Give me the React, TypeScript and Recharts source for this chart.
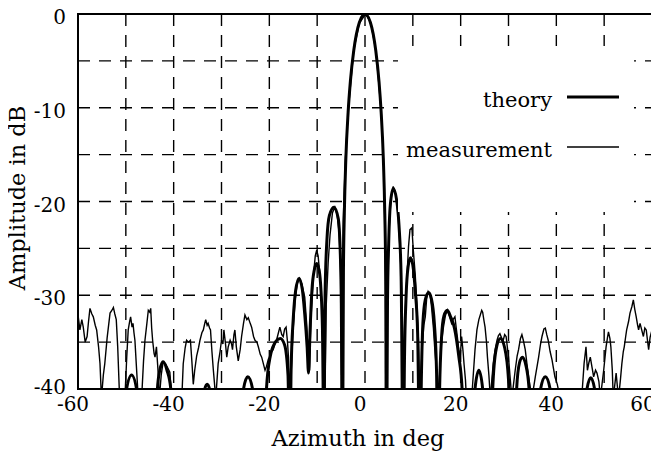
import React from 'react';
import { LineChart, Line, XAxis, YAxis, CartesianGrid, ReferenceArea, Legend } from 'recharts';

// azimuth ticks (deg) and amplitude ticks (dB)
const azTicks = [-60, -50, -40, -30, -20, -10, 0, 10, 20, 30, 40, 50, 60];
const dbTicks = [-40, -35, -30, -25, -20, -15, -10, -5, 0];

// theory pattern [azimuth, dB], values below -40 fall outside the plot
const theory: [number, number][] = [
  [-60, -55],
  [-50.6, -55], [-50.0, -40.5], [-48.8, -38.5], [-47.6, -40.5], [-47.0, -55],
  [-44.0, -55], [-43.4, -40], [-42.9, -38], [-42.2, -37.1], [-41.4, -38], [-40.6, -40], [-40.0, -55],
  [-34.2, -55], [-33.6, -40.2], [-33.0, -39.5], [-32.4, -40.2], [-31.8, -55],
  [-26.1, -55], [-25.4, -40], [-24.5, -38.7], [-23.5, -40], [-22.9, -55],
  [-21.0, -55], [-20.6, -40], [-19.8, -36.5], [-18.6, -34.9], [-17.7, -34.6], [-16.8, -35.3], [-16.1, -38.5], [-15.7, -48],
  [-15.45, -38], [-15.0, -32.5], [-14.5, -29.5], [-13.8, -28.2], [-13.1, -29.4], [-12.6, -32], [-12.1, -35.5], [-11.8, -38.3],
  [-11.5, -34], [-11.1, -29.5], [-10.6, -27.3], [-10.1, -26.6], [-9.6, -27.3], [-9.2, -29.5], [-8.9, -33.5], [-8.6, -45],
  [-8.35, -30], [-7.95, -24], [-7.45, -21.5], [-6.5, -20.6], [-5.6, -21.8], [-5.2, -25], [-4.95, -31], [-4.72, -50],
  [-4.51, -27.6], [-4.32, -21.3], [-4.0, -15.4], [-3.53, -10.5], [-3.06, -7.2], [-2.35, -3.9], [-1.18, -0.9], [0, 0],
  [1.13, -0.9], [2.25, -3.9], [2.93, -7.2], [3.38, -10.5], [3.83, -15.4], [4.14, -21.3], [4.32, -27.6], [4.5, -50],
  [4.7, -31], [4.95, -24.5], [5.3, -20.3], [5.9, -18.6], [6.6, -19.8], [7.1, -22.5], [7.55, -28], [8.0, -50],
  [8.25, -37], [8.6, -30], [9.0, -27], [9.5, -26], [10.0, -26.8], [10.5, -29.5], [11.0, -34], [11.5, -50],
  [11.75, -40], [12.1, -33], [12.6, -30.5], [13.3, -29.7], [13.9, -30.4], [14.5, -33], [14.95, -38], [15.3, -50],
  [15.6, -40], [16.0, -34.5], [16.5, -32.2], [17.2, -31.6], [17.9, -32.3], [18.7, -33.5], [19.6, -36.5], [20.3, -40], [20.8, -52],
  [22.5, -55], [23.0, -40], [23.8, -38], [24.6, -40], [25.2, -55],
  [26.2, -52], [26.7, -40], [27.4, -35.8], [28.3, -34.6], [29.2, -35.6], [30.0, -39], [30.5, -52],
  [31.2, -55], [31.7, -40], [32.3, -37.2], [32.9, -36.6], [33.6, -37.4], [34.3, -40], [34.8, -55],
  [36.2, -55], [36.7, -40], [37.7, -38.7], [38.7, -40], [39.2, -55],
  [45.8, -55], [46.4, -40], [47.2, -38.8], [48.0, -40], [48.6, -55],
  [60, -55],
];

// measured pattern [azimuth, dB]
const measurement: [number, number][] = [
  [-60, -32.1], [-59.6, -33.7], [-59.2, -32.6], [-58.9, -33.4], [-58.5, -35.0], [-58.1, -34.4], [-57.8, -32.8],
  [-57.5, -31.4], [-57.1, -32.0], [-56.8, -32.3], [-56.4, -33.2], [-56.1, -33.7], [-55.7, -35.5], [-55.4, -37.3], [-55.1, -41],
  [-54.7, -38.5], [-54.4, -37.3], [-53.9, -34.5], [-53.3, -31.9], [-52.9, -31.6], [-52.6, -31.3], [-52.3, -32.0],
  [-52.0, -32.6], [-51.7, -35.5], [-51.3, -41],
  [-50.2, -41], [-49.8, -36.5], [-49.5, -33.7], [-49.2, -32.8], [-49.0, -32.3], [-48.7, -33.4], [-48.5, -33.0],
  [-48.3, -34.0], [-48.1, -34.8], [-47.8, -37.5], [-47.4, -41],
  [-46.7, -41], [-46.3, -37], [-46.0, -34.8], [-45.6, -33.0], [-45.3, -31.6], [-45.0, -31.8], [-44.8, -31.4],
  [-44.6, -33.5], [-44.4, -34.8], [-44.1, -36.2], [-43.9, -36.6], [-43.6, -35.5], [-43.3, -37.8], [-43.0, -41],
  [-42.6, -38.5], [-42.2, -37.1], [-41.7, -37.3], [-41.2, -37.8], [-40.8, -38.2], [-40.4, -41],
  [-38.3, -41], [-38.0, -37.3], [-37.6, -35.6], [-37.3, -34.8], [-36.9, -35.0], [-36.5, -34.8], [-36.2, -37.0],
  [-35.9, -39.5], [-35.6, -38.0], [-35.2, -36.5], [-34.8, -35.6], [-34.5, -34.8], [-34.1, -34.0], [-33.8, -33.7],
  [-33.5, -33.0], [-33.3, -32.6], [-33.0, -33.2], [-32.8, -33.0], [-32.5, -33.5], [-32.3, -33.7], [-32.0, -36.0],
  [-31.7, -38.0], [-31.2, -41],
  [-30.7, -37.3], [-30.3, -36.0], [-30.0, -34.8], [-29.7, -35.2], [-29.5, -33.7], [-29.2, -35.0], [-28.9, -36.6],
  [-28.6, -35.5], [-28.2, -34.8], [-27.9, -35.2], [-27.7, -35.8], [-27.4, -34.2], [-27.2, -33.7], [-26.9, -35.5],
  [-26.5, -37.0], [-26.1, -35.8], [-25.8, -34.4], [-25.4, -33.0], [-25.1, -32.1], [-24.7, -32.6], [-24.4, -32.4],
  [-24.0, -33.0], [-23.7, -33.4], [-23.3, -34.4], [-23.0, -34.8], [-22.6, -35.0], [-22.3, -35.5], [-21.9, -36.3],
  [-21.6, -36.6], [-21.2, -37.4], [-20.9, -38.0], [-20.6, -37.6], [-20.2, -36.8], [-19.9, -36.6], [-19.5, -36.0],
  [-19.2, -35.8], [-18.8, -35.2], [-18.5, -34.8], [-18.1, -34.0], [-17.8, -33.4], [-17.4, -34.2], [-17.1, -34.4],
  [-16.8, -33.6], [-16.5, -33.4], [-16.2, -35.0], [-16.0, -36.6], [-15.7, -42],
  [-15.3, -36.5], [-15.0, -33.5], [-14.6, -30.5], [-14.2, -28.8], [-13.7, -28.2], [-13.2, -28.8], [-12.6, -30.2],
  [-12.2, -33.0], [-11.9, -35.8], [-11.6, -38.0],
  [-11.3, -32.5], [-10.8, -28.0], [-10.4, -25.8], [-10.1, -25.2], [-9.8, -25.8], [-9.4, -28.0], [-9.0, -31.0],
  [-8.7, -34.0], [-8.4, -42],
  [-8.1, -31], [-7.7, -26.5], [-7.3, -23.5], [-6.8, -21.2], [-6.3, -20.6], [-5.8, -21.5], [-5.4, -23.4],
  [-5.1, -27.5], [-4.9, -38.5],
  [-4.8, -30], [-4.55, -22], [-4.1, -15.5], [-3.5, -10.3], [-2.4, -4.0], [-1.2, -1.0], [0.1, 0], [1.2, -0.9],
  [2.3, -4.0], [3.4, -10.5], [3.85, -15.5], [4.1, -21.5], [4.35, -30], [4.5, -40.5],
  [4.75, -29], [5.0, -23.5], [5.4, -19.8], [5.9, -18.4], [6.5, -19.4], [7.0, -22], [7.5, -27], [7.8, -32], [8.0, -42],
  [8.3, -33], [8.7, -28.7], [9.1, -24.8], [9.4, -23.0], [9.8, -22.8], [10.1, -25.2], [10.5, -27.8], [10.8, -30.5],
  [11.2, -35], [11.5, -42],
  [11.9, -36], [12.3, -33.2], [12.6, -32.3], [12.9, -30.3], [13.2, -29.6], [13.6, -30.0], [13.9, -31.2],
  [14.3, -33.5], [14.6, -35.8], [15.0, -38.5], [15.3, -42],
  [15.7, -37.5], [16.0, -35.0], [16.4, -33.4], [16.8, -32.2], [17.2, -31.6], [17.6, -32.2], [18.1, -33.0],
  [18.4, -32.6], [18.8, -32.3], [19.1, -33.6], [19.3, -34.4], [19.6, -35.8], [19.9, -36.6], [20.2, -34.4],
  [20.5, -36.0], [20.7, -37.3], [21.0, -39], [21.3, -42],
  [22.3, -41], [22.7, -38.0], [23.0, -35.8], [23.4, -33.7], [23.8, -32.6], [24.1, -32.1], [24.4, -31.6],
  [24.6, -31.8], [24.9, -32.8], [25.1, -33.4], [25.4, -35.0], [25.6, -36.6], [25.9, -38.5], [26.2, -41],
  [26.8, -37.3], [27.2, -35.8], [27.6, -34.8], [27.9, -34.3], [28.2, -34.1], [28.6, -34.6], [28.9, -34.8],
  [29.2, -34.2], [29.5, -34.4], [30.0, -36.6], [30.3, -38.5], [30.7, -41],
  [31.4, -38.0], [31.8, -36.5], [32.1, -35.8], [32.5, -34.6], [32.8, -34.2], [33.1, -34.8], [33.5, -35.8],
  [33.9, -37.5], [34.2, -38.7], [34.9, -41],
  [35.6, -38.7], [36.0, -37.5], [36.3, -36.6], [36.7, -35.2], [37.0, -34.4], [37.4, -33.6], [37.7, -33.5],
  [38.0, -34.2], [38.3, -34.8], [38.7, -36.0], [39.1, -36.9], [39.4, -37.8], [39.7, -38.7], [40.2, -39.5], [40.8, -41],
  [45.3, -41], [45.8, -37.3], [46.2, -35.5], [46.5, -38.0], [46.8, -37.2], [47.1, -36.6], [47.5, -37.8],
  [47.8, -38.7], [48.2, -38.0], [48.5, -38.3], [48.9, -39.2], [49.2, -41],
  [49.9, -38.0], [50.4, -35.5], [50.7, -34.5], [50.9, -33.9], [51.2, -34.6], [51.4, -35.5], [51.7, -38], [51.9, -41],
  [52.5, -38.3], [53.0, -41], [53.4, -39], [53.7, -37.3], [54.0, -36.0], [54.2, -35.5], [54.5, -34.4], [54.7, -33.7],
  [55.1, -32.8], [55.4, -31.9], [55.8, -31.2], [56.1, -30.5], [56.4, -31.5], [56.7, -32.3], [57.0, -33.2],
  [57.2, -33.7], [57.5, -33.0], [57.7, -33.4], [58.0, -34.0], [58.2, -34.4], [58.5, -33.5], [58.8, -33.7],
  [59.1, -35.0], [59.3, -35.8], [59.6, -34.5], [60, -33.7],
];

const FONT = '"DejaVu Serif", serif';

const theoryData = theory.map(([az, db]) => ({ az, db }));
const measData = measurement.map(([az, db]) => ({ az, db }));

const legendWidth: Record<string, number> = { theory: 3, measurement: 1.4 };

function LegendBox({ payload }: any) {
  const items = (payload || []).slice().sort((a: any) => (a.value === 'theory' ? -1 : 1));
  return (
    <svg width={236} height={166} style={{ background: '#fff', display: 'block' }}>
      {items.map((entry: any, i: number) => (
        <g key={entry.value}>
          <text x={154} y={61 + i * 50} textAnchor="end" fontSize={21} fontFamily={FONT} fill="#000">
            {entry.value}
          </text>
          <line x1={169} x2={221} y1={51 + i * 50} y2={51 + i * 50} stroke="#000" strokeWidth={legendWidth[entry.value]} />
        </g>
      ))}
    </svg>
  );
}

// y tick: the bottom label sits a little higher so it clears the -60 below it
function DbTick({ x, y, payload }: any) {
  const v = payload.value;
  if (v % 10 !== 0) return null;
  return (
    <text x={x} y={y + (v === -40 ? -2 : 3)} dy="0.355em" textAnchor="end" fontSize={20} fontFamily={FONT} fill="#000">
      {String(v)}
    </text>
  );
}

function AzTick({ x, y, payload }: any) {
  const v = payload.value;
  if (v % 20 !== 0) return null;
  return (
    <text x={x + (v === 60 ? -8 : -5)} y={y} dy="0.71em" textAnchor="middle" fontSize={20} fontFamily={FONT} fill="#000">
      {String(v)}
    </text>
  );
}

export default function App() {
  return (
    <div style={{ width: 659, height: 457, margin: '-8px 0 0 -8px', background: '#fff' }}>
      <LineChart width={659} height={457} margin={{ top: 14, right: 7, bottom: 0, left: 0 }}>
        <CartesianGrid stroke="#000" strokeWidth={1.4} strokeDasharray="12 9" />
        <XAxis
          type="number"
          dataKey="az"
          domain={[-60, 60]}
          ticks={azTicks}
          height={68}
          axisLine={false}
          tickLine={false}
          tickSize={6}
          tick={<AzTick />}
          label={{
            content: () => (
              <text x={358} y={446} textAnchor="middle" fontSize={22.5} fontFamily={FONT} fill="#000">
                Azimuth in deg
              </text>
            ),
          }}
        />
        <YAxis
          type="number"
          domain={[-40, 0]}
          ticks={dbTicks}
          allowDataOverflow
          width={78}
          axisLine={false}
          tickLine={false}
          tickSize={10}
          tick={<DbTick />}
          label={{
            content: () => (
              <text
                x={25}
                y={198}
                transform="rotate(-90 25 198)"
                textAnchor="middle"
                fontSize={22.5}
                fontFamily={FONT}
                fill="#000"
              >
                Amplitude in dB
              </text>
            ),
          }}
        />
        <ReferenceArea x1={-60} x2={60} y1={-40} y2={0} fill="none" stroke="#000" strokeWidth={2} />
        <Line
          data={measData}
          dataKey="db"
          name="measurement"
          type="linear"
          stroke="#000"
          strokeWidth={1.4}
          dot={false}
          activeDot={false}
          isAnimationActive={false}
        />
        <Line
          data={theoryData}
          dataKey="db"
          name="theory"
          type="monotone"
          stroke="#000"
          strokeWidth={3}
          dot={false}
          activeDot={false}
          isAnimationActive={false}
        />
        <Legend
          layout="horizontal"
          verticalAlign="middle"
          align="center"
          content={<LegendBox />}
          wrapperStyle={{ position: 'absolute', left: 398, top: 46, width: 236, height: 166 }}
        />
      </LineChart>
    </div>
  );
}
